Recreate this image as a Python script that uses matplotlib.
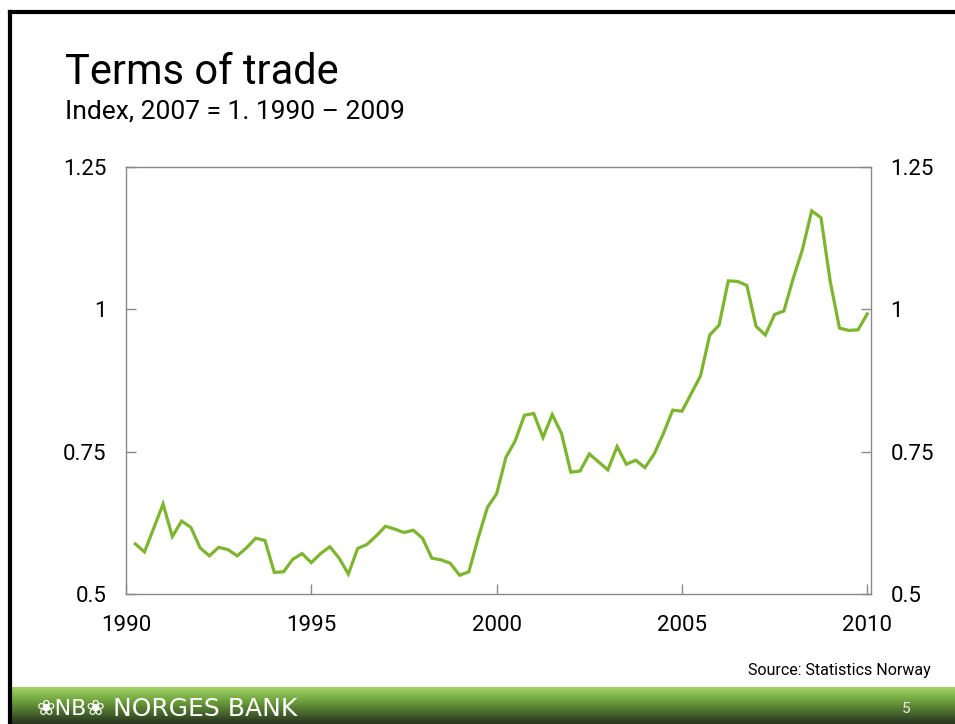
import matplotlib
matplotlib.use("Agg")
import matplotlib.pyplot as plt
import numpy as np

# quarterly terms of trade, 1990Q1 - 2009Q4 (index, 2007 = 1)
values = [
    0.588, 0.574, 0.616, 0.658, 0.601, 0.628, 0.617, 0.581,
    0.567, 0.582, 0.578, 0.567, 0.581, 0.598, 0.594, 0.538,
    0.539, 0.561, 0.571, 0.555, 0.571, 0.583, 0.563, 0.535,
    0.580, 0.587, 0.602, 0.619, 0.614, 0.608, 0.612, 0.598,
    0.563, 0.560, 0.554, 0.533, 0.539, 0.598, 0.652, 0.676,
    0.740, 0.769, 0.814, 0.817, 0.775, 0.815, 0.782, 0.714,
    0.716, 0.746, 0.732, 0.718, 0.759, 0.728, 0.735, 0.722,
    0.746, 0.782, 0.823, 0.821, 0.852, 0.883, 0.955, 0.972,
    1.050, 1.049, 1.042, 0.970, 0.955, 0.991, 0.997, 1.054,
    1.105, 1.173, 1.161, 1.049, 0.967, 0.963, 0.964, 0.992,
]
start_year = 1990
x = start_year + 0.25 * (np.arange(len(values)) + 1)

xticks = [1990, 1995, 2000, 2005, 2010]
yticks = [0.5, 0.75, 1.0, 1.25]
ytick_labels = ["0.5", "0.75", "1", "1.25"]

title = "Terms of trade"
subtitle = "Index, 2007 = 1. 1990 \u2013 2009"
source = "Source: Statistics Norway"

plt.rcParams['font.family'] = ['Roboto', 'DejaVu Sans']
line_green = "#7db52f"
spine_grey = "#8a8a8a"

fig = plt.figure(figsize=(9.55, 7.24), dpi=100)

# slide frame (black lines left and top)
fig.add_artist(plt.Line2D([9.5 / 955, 9.5 / 955], [0, 1 - 12 / 724], color="black", lw=3))
fig.add_artist(plt.Line2D([9.5 / 955, 1], [1 - 12 / 724, 1 - 12 / 724], color="black", lw=3))

# footer gradient bar
foot = fig.add_axes([11 / 955, 0, 1 - 11 / 955, 37 / 724])
grad = np.linspace(0, 1, 100)
top_c = np.array([165, 212, 105]) / 255
mid_c = np.array([112, 165, 62]) / 255
bot_c = np.array([38, 50, 30]) / 255
cols = np.zeros((100, 1, 3))
for i, t in enumerate(grad):
    if t < 0.35:
        cols[i, 0] = top_c + (mid_c - top_c) * (t / 0.35)
    else:
        cols[i, 0] = mid_c + (bot_c - mid_c) * ((t - 0.35) / 0.65)
foot.imshow(cols, aspect="auto", extent=[0, 1, 0, 1])
foot.set_xlim(0, 1)
foot.set_ylim(0, 1)
foot.axis("off")
foot.text(0.027, 0.40, "\u2740NB\u2740", color="white", fontsize=16,
          va="center", ha="left", family=["DejaVu Sans"])
foot.text(0.108, 0.40, "NORGES BANK", color="white", fontsize=18,
          va="center", ha="left", family=["DejaVu Sans"])
foot.text(0.948, 0.40, "5", color="#e8e8e8", fontsize=11, va="center", ha="center")

# main chart
ax = fig.add_axes([126 / 955, 1 - 594 / 724, 745 / 955, 427 / 724])
ax.plot(x, values, color=line_green, lw=2.3, solid_joinstyle="miter")
ax.set_xlim(1990, 2010.1)
ax.set_ylim(0.5, 1.25)
ax.set_xticks(xticks)
ax.set_yticks(yticks)
ax.set_yticklabels(ytick_labels)
for s in ax.spines.values():
    s.set_color(spine_grey)
    s.set_linewidth(1.0)
ax.tick_params(axis="both", direction="in", length=7, width=1, color=spine_grey,
               labelsize=16, left=True, right=True, top=False,
               labelleft=True, labelright=True)
ax.tick_params(axis="y", pad=14)
ax.tick_params(axis="x", pad=15)

fig.text(65 / 955, 1 - 72 / 724, title, fontsize=30, va="center", ha="left")
fig.text(65 / 955, 1 - 112 / 724, subtitle, fontsize=19, va="center", ha="left")
fig.text(931 / 955, 1 - 671 / 724, source, fontsize=11.5, va="center", ha="right")

fig.savefig("out.png", dpi=100)
